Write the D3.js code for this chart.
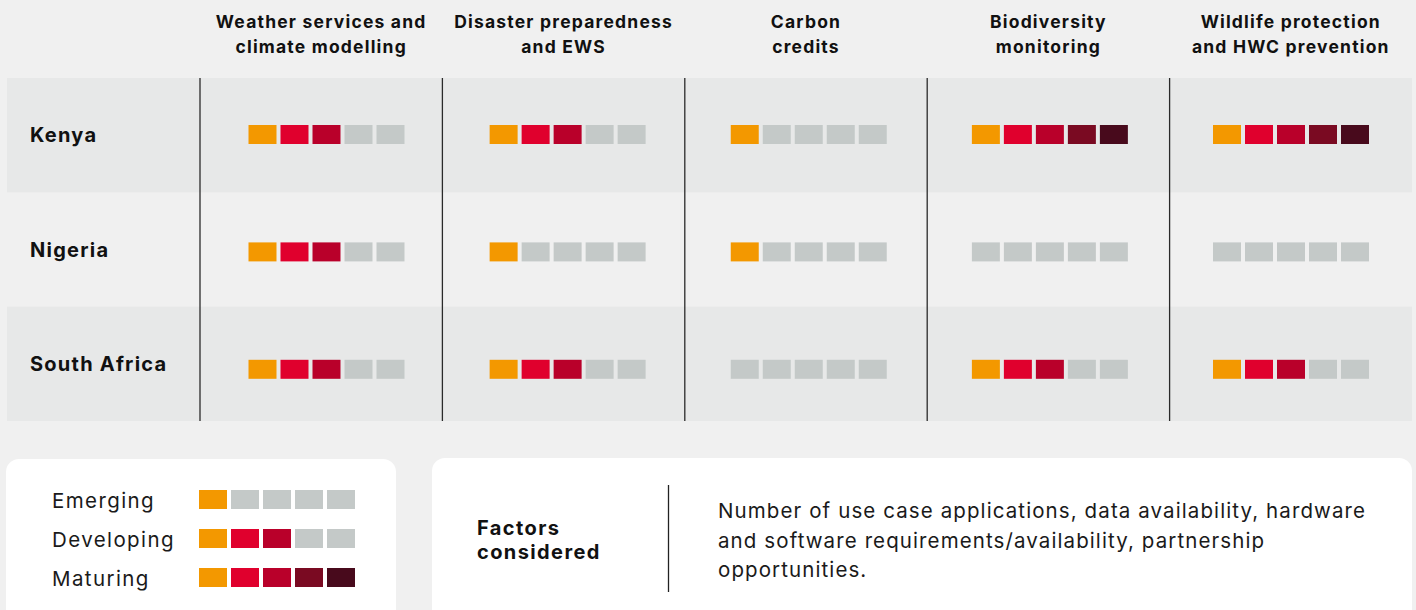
<!DOCTYPE html>
<html><head><meta charset="utf-8">
<script src="https://cdn.jsdelivr.net/npm/d3@7"></script>
<style>
html,body{margin:0;padding:0;background:#f0f0f0;}
svg{display:block;font-family:Inter, "Noto Sans", sans-serif;}
</style></head>
<body>
<svg id="chart" width="1416" height="610"></svg>
<script>
const countries = ["Kenya", "Nigeria", "South Africa"];
const useCases = [
  ["Weather services and", "climate modelling"],
  ["Disaster preparedness", "and EWS"],
  ["Carbon", "credits"],
  ["Biodiversity", "monitoring"],
  ["Wildlife protection", "and HWC prevention"]
];
const useCaseKeys = ["weather", "disaster", "carbon", "biodiversity", "wildlife"];
// number of filled squares (out of 5) per country per use case
const kenyaLevels = [3, 3, 1, 5, 5];
const nigeriaLevels = [3, 1, 1, 0, 0];
const southAfricaLevels = [3, 3, 0, 3, 3];
const levels = [kenyaLevels, nigeriaLevels, southAfricaLevels];
const squareColors = ["#f39800", "#e0002d", "#b9002a", "#7a0a22", "#480a1c"];
const emptyColor = "#c4c9c8";
const legendLabels = ["Emerging", "Developing", "Maturing"];
const legendLevels = [1, 3, 5];
const factorsTitle = ["Factors", "considered"];
const factorsText = [
  "Number of use case applications, data availability, hardware",
  "and software requirements/availability, partnership",
  "opportunities."
];

const svg = d3.select("#chart");

// scales
const rowScale = d3.scaleBand().domain(countries).range([78, 421]);
const colScale = d3.scaleBand().domain(useCaseKeys).range([200, 1412]);
const groupX = d3.scalePoint().domain(useCaseKeys).range([326.5, 1291]);
const groupY = d3.scalePoint().domain(countries).range([134.5, 369.3]);
const sqScale = d3.scaleBand().domain(d3.range(5)).range([0, 156]).paddingInner(0.125);
const sqH = 19;

// row bands
svg.append("g").selectAll("rect").data(countries.filter((d, i) => i % 2 === 0))
  .join("rect")
  .attr("x", 7).attr("width", 1412 - 7)
  .attr("y", d => rowScale(d)).attr("height", rowScale.bandwidth())
  .attr("fill", "#e7e8e8");

// vertical separators
svg.append("g").selectAll("line").data(useCaseKeys).join("line")
  .attr("x1", d => colScale(d)).attr("x2", d => colScale(d))
  .attr("y1", 78).attr("y2", 421)
  .attr("stroke", "#2a2a2a").attr("stroke-width", 1.3);

// headers
const hdr = svg.append("g").selectAll("text").data(useCases).join("text")
  .attr("x", (d, i) => colScale(useCaseKeys[i]) + colScale.bandwidth() / 2)
  .attr("text-anchor", "middle")
  .attr("font-size", 17.5).attr("font-weight", 700).attr("fill", "#111")
  .attr("letter-spacing", 1.2);
hdr.selectAll("tspan").data(d => d).join("tspan")
  .attr("x", function () { return d3.select(this.parentNode).attr("x"); })
  .attr("y", (d, i) => 28 + i * 24.5)
  .text(d => d);

// row labels
svg.append("g").selectAll("text").data(countries).join("text")
  .attr("x", 30)
  .attr("y", d => rowScale(d) + rowScale.bandwidth() / 2 + 7)
  .attr("font-size", 20).attr("font-weight", 700).attr("fill", "#111")
  .attr("letter-spacing", 1.25)
  .text(d => d);

// squares
const cells = [];
countries.forEach((c, ci) => useCaseKeys.forEach((u, ui) => cells.push({c, u, level: levels[ci][ui]})));
const cellG = svg.append("g").selectAll("g").data(cells).join("g")
  .attr("transform", d => `translate(${groupX(d.u) - 78},${groupY(d.c) - sqH / 2})`);
cellG.selectAll("rect").data(d => d3.range(5).map(k => ({k, on: k < d.level}))).join("rect")
  .attr("x", d => sqScale(d.k)).attr("width", sqScale.bandwidth())
  .attr("y", 0).attr("height", sqH)
  .attr("fill", d => d.on ? squareColors[d.k] : emptyColor);

// legend box
svg.append("rect").attr("x", 6).attr("y", 459).attr("width", 390).attr("height", 170)
  .attr("rx", 13).attr("fill", "#ffffff");
const legY = d3.scalePoint().domain(legendLabels).range([499.5, 577.5]);
svg.append("g").selectAll("text").data(legendLabels).join("text")
  .attr("x", 52).attr("y", d => legY(d) + 8)
  .attr("font-size", 20.5).attr("fill", "#1a1a1a")
  .attr("letter-spacing", 1.4).text(d => d);
const legG = svg.append("g").selectAll("g").data(legendLabels).join("g")
  .attr("transform", (d, i) => `translate(199,${legY(d) - sqH / 2})`);
legG.selectAll("rect").data((d, i) => d3.range(5).map(k => ({k, on: k < legendLevels[i]}))).join("rect")
  .attr("x", d => sqScale(d.k)).attr("width", sqScale.bandwidth())
  .attr("y", 0).attr("height", sqH)
  .attr("fill", d => d.on ? squareColors[d.k] : emptyColor);

// factors box
svg.append("rect").attr("x", 432).attr("y", 458).attr("width", 980).attr("height", 170)
  .attr("rx", 13).attr("fill", "#ffffff");
svg.append("g").selectAll("text").data(factorsTitle).join("text")
  .attr("x", 477).attr("y", (d, i) => 535 + i * 24)
  .attr("font-size", 20).attr("font-weight", 700).attr("fill", "#111")
  .attr("letter-spacing", 1.4).text(d => d);
svg.append("line").attr("x1", 668.5).attr("x2", 668.5).attr("y1", 485).attr("y2", 592)
  .attr("stroke", "#222").attr("stroke-width", 1.3);
svg.append("g").selectAll("text").data(factorsText).join("text")
  .attr("x", 718).attr("y", (d, i) => 518 + i * 29.5)
  .attr("font-size", 20.5).attr("fill", "#1a1a1a")
  .attr("letter-spacing", 1.1).text(d => d);
</script>
</body></html>
